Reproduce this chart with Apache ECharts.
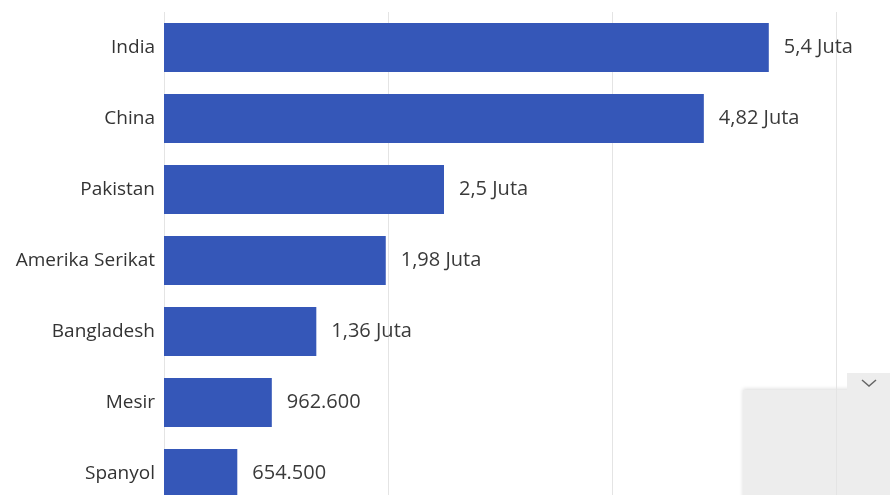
<!DOCTYPE html>
<html>
<head>
<meta charset="utf-8">
<script src="https://cdn.jsdelivr.net/npm/echarts@6/dist/echarts.min.js"></script>
<style>
  html, body { margin: 0; padding: 0; background: #fff; overflow: hidden; }
  #chart { width: 890px; height: 515px; }
</style>
</head>
<body>
<div id="chart"></div>
<script>
const negara = ['India', 'China', 'Pakistan', 'Amerika Serikat', 'Bangladesh', 'Mesir', 'Spanyol'];
const nilai = [5400000, 4820000, 2500000, 1980000, 1360000, 962600, 654500];

// 5400000 -> "5,4 Juta", 962600 -> "962.600"
function formatNilai(v) {
  if (v >= 1000000) {
    return String(+(v / 1000000).toFixed(2)).replace('.', ',') + ' Juta';
  }
  return String(v).replace(/\B(?=(\d{3})+(?!\d))/g, '.');
}

const chart = echarts.init(document.getElementById('chart'));
const option = {
  animation: false,
  textStyle: { fontFamily: 'Open Sans' },
  grid: { left: 164, top: 12, width: 672, height: 497 },
  xAxis: {
    type: 'value',
    min: 0,
    max: 6000000,
    interval: 2000000,
    axisLabel: { show: false },
    axisLine: { show: false },
    axisTick: { show: false },
    splitLine: { lineStyle: { color: '#e4e4e4', width: 1 } }
  },
  yAxis: {
    type: 'category',
    inverse: true,
    data: negara,
    axisLine: { show: false },
    axisTick: { show: false },
    axisLabel: { color: '#333', fontSize: 19, margin: 9 }
  },
  series: [{
    type: 'bar',
    data: nilai,
    barWidth: 49,
    itemStyle: { color: '#3557b8' },
    label: {
      show: true,
      position: 'right',
      distance: 15,
      color: '#3a3a3a',
      fontSize: 20,
      formatter: p => formatNilai(p.value)
    }
  }],
  graphic: [
    { type: 'rect', shape: { x: 743, y: 390, width: 147, height: 125 },
      style: { fill: '#ededed', shadowBlur: 4, shadowColor: 'rgba(0,0,0,0.15)', shadowOffsetY: -1 } },
    { type: 'rect', shape: { x: 847, y: 373, width: 43, height: 20 },
      style: { fill: '#ededed' } },
    { type: 'polyline', shape: { points: [[862, 380], [869, 386], [876, 380]] },
      style: { stroke: '#666', lineWidth: 1.5, fill: null } }
  ]
};
chart.setOption(option);
</script>
</body>
</html>
